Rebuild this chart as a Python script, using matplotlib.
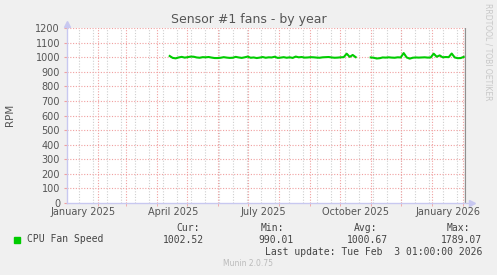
import matplotlib
matplotlib.use('Agg')
import matplotlib.pyplot as plt
import pandas as pd
from datetime import datetime, timedelta

# fan speed, one reading every 3 days (two runs, gap in late October)
seg1_start = '2025-04-14'
seg1_rpm = [1008, 995, 992, 998, 1002, 997, 1000, 1004, 1003, 998,
            996, 1000, 999, 1001, 997, 994, 994, 996, 1000, 997,
            995, 996, 1002, 998, 995, 999, 1004, 996, 998, 994,
            997, 1001, 996, 999, 998, 1003, 995, 997, 1000, 996,
            999, 995, 1004, 999, 1001, 997, 998, 1000, 999, 997,
            996, 999, 1000, 1001, 998, 996, 997, 999, 1000, 1024,
            1002, 1015, 1000]
seg2_start = '2025-11-01'
seg2_rpm = [998, 996, 991, 993, 998, 997, 999, 997, 996, 999,
            998, 1028, 998, 990, 996, 998, 997, 998, 999, 997,
            998, 1024, 1003, 1012, 999, 1001, 1000, 1025, 998, 993,
            994, 1002]

label_months = ['2025-01-01', '2025-04-01', '2025-07-01', '2025-10-01', '2026-01-01']
month_labels = ['January 2025', 'April 2025', 'July 2025', 'October 2025', 'January 2026']
y_ticks = list(range(0, 1300, 100))

series_name = 'CPU Fan Speed'
stats_heads = ['Cur:', 'Min:', 'Avg:', 'Max:']
stats_vals = ['1002.52', '990.01', '1000.67', '1789.07']
last_update = datetime(2026, 2, 3, 1, 0)

GREEN = '#00CC00'
RED_GRID = '#F0A0A0'
GRAY_GRID = '#CFCFCF'
AXIS = '#C8C8F0'
W, H = 497, 275


def px(x, y):
    # pixel position (from top-left) -> figure fraction
    return x / W, 1 - y / H


fig = plt.figure(figsize=(W / 100, H / 100), dpi=100, facecolor='#F0F0F0')
ax = fig.add_axes([67 / W, 72 / H, 400 / W, 175 / H])
ax.set_facecolor('white')

t0 = datetime(2025, 1, 1) + timedelta(days=0.3)
t1 = t0 + timedelta(days=400)
ax.set_xlim(t0, t1)
ax.set_ylim(0, 1200)

dotted = (0, (1, 1.5))
# minor grid every two weeks, major grid on month starts
for d in pd.date_range('2025-01-13', t1, freq='14D'):
    ax.axvline(d, color=GRAY_GRID, lw=0.8, ls=dotted, zorder=1)
month_starts = pd.date_range('2025-02-01', t1, freq='MS')
for d in month_starts:
    ax.axvline(d, color=RED_GRID, lw=0.8, ls=dotted, zorder=1.5)
for v in y_ticks[1:]:
    ax.axhline(v, color=RED_GRID, lw=0.8, ls=dotted, zorder=1.5)

ax.axvline(last_update, color='#909090', lw=1.0, zorder=2)

for start, vals in [(seg1_start, seg1_rpm), (seg2_start, seg2_rpm)]:
    dates = pd.date_range(start, periods=len(vals), freq='3D')
    ax.plot(dates, vals, color=GREEN, lw=1.5, zorder=3, solid_joinstyle='round')

for s in ax.spines.values():
    s.set_visible(False)

ax.set_yticks(y_ticks)
ax.tick_params(axis='y', length=2, color=RED_GRID, pad=3, labelsize=7, labelcolor='#555555')
label_pos = [pd.Timestamp(m) + pd.Timedelta(days=16) for m in label_months]
ax.set_xticks(label_pos)
ax.set_xticklabels(month_labels)
ax.set_xticks(month_starts, minor=True)
ax.tick_params(axis='x', which='major', length=0, pad=3, labelsize=7, labelcolor='#555555')
ax.tick_params(axis='x', which='minor', length=2, color=RED_GRID)

# axis lines with small arrow heads
ax.plot([0, 0], [0, 1.02], transform=ax.transAxes, color=AXIS, lw=1, clip_on=False, zorder=4)
ax.plot([0, 1.008], [0, 0], transform=ax.transAxes, color=AXIS, lw=1, clip_on=False, zorder=4)
ax.plot([0], [1.025], transform=ax.transAxes, marker='^', ms=4, color=AXIS, clip_on=False, zorder=4)
ax.plot([1.012], [0], transform=ax.transAxes, marker='>', ms=4, color=AXIS, clip_on=False, zorder=4)

fig.text(*px(248.7, 19.3), 'Sensor #1 fans - by year', ha='center', va='center',
         fontsize=9, color='#555555')
fig.text(*px(10.5, 114.7), 'RPM', rotation=90, ha='center', va='center',
         fontsize=7.5, color='#555555')
fig.text(*px(488.3, 3), 'RRDTOOL / TOBI OETIKER', rotation=270, ha='center', va='top',
         fontsize=5.5, color='#C8C8C8')

mono = dict(family='DejaVu Sans Mono', fontsize=7, color='#444444', va='center')
x0, y0 = px(14, 243)
fig.add_artist(plt.Rectangle((x0, y0), 6 / W, 6 / H, transform=fig.transFigure, color=GREEN))
fig.text(*px(26.7, 239.5), series_name, **mono)
for head, hx in zip(stats_heads, [176.7, 261, 354, 446.7]):
    fig.text(*px(hx, 227.7), head, **mono)
for val, vx in zip(stats_vals, [204.3, 293.3, 388.3, 482.3]):
    fig.text(*px(vx, 240), val, ha='right', **mono)
fig.text(*px(482.3, 251.7), 'Last update: ' + last_update.strftime('%a %b %e %H:%M:%S %Y'),
         ha='right', **mono)
fig.text(*px(247.8, 264), 'Munin 2.0.75', ha='center', va='center', fontsize=5.5, color='#BBBBBB')

fig.savefig('out.png', dpi=100, facecolor=fig.get_facecolor())
